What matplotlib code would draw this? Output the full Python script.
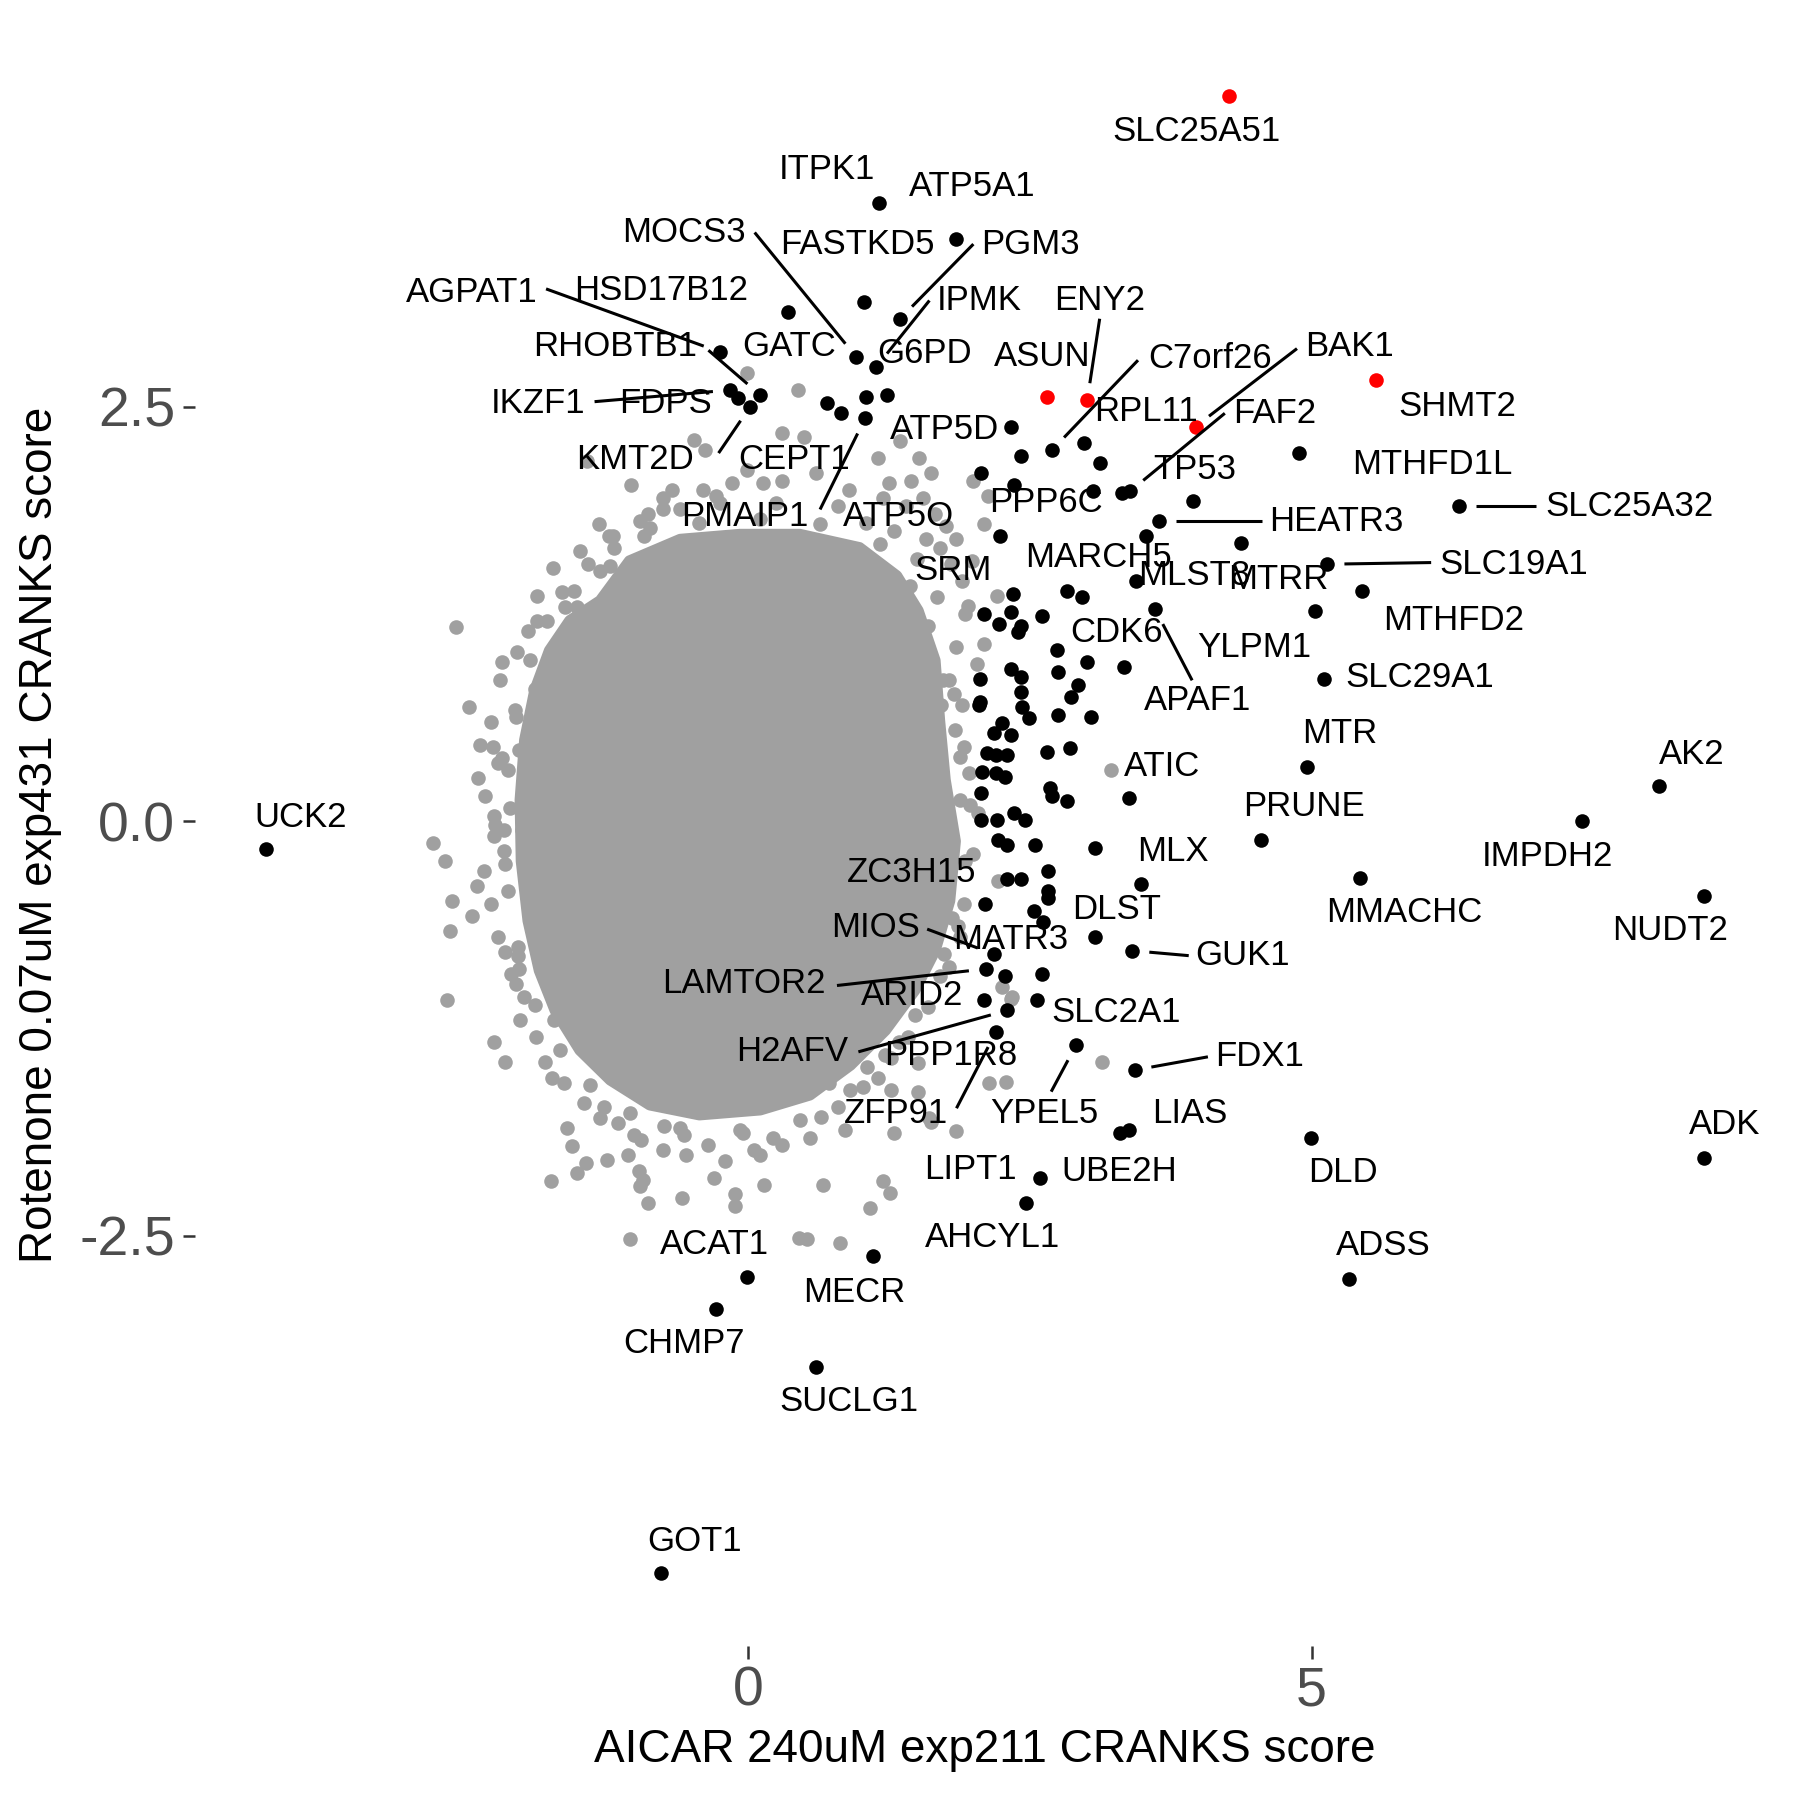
import numpy as np
import matplotlib
matplotlib.use('Agg')
import matplotlib.pyplot as plt

plt.rcParams['font.family'] = ['Liberation Sans', 'DejaVu Sans']
plt.rcParams['axes.unicode_minus'] = False

################################################################################
# Data

# outline of the dense grey core of the cloud (thousands of overlapping genes)
coreX = [-1.31, -1.05, -0.60, -0.07, 0.46, 0.99, 1.32, 1.51, 1.66, 1.70, 1.75, 1.84, 1.79, 1.66,
         1.48, 1.22, 0.91, 0.55, 0.11, -0.43, -0.87, -1.22, -1.49, -1.71, -1.85, -1.95, -2.01, -2.02,
         -1.98, -1.89, -1.76, -1.58]
coreY = [1.33, 1.57, 1.70, 1.73, 1.73, 1.65, 1.48, 1.27, 0.97, 0.61, 0.25, -0.12, -0.48, -0.78,
         -1.02, -1.26, -1.47, -1.65, -1.74, -1.77, -1.71, -1.56, -1.38, -1.14, -0.90, -0.60, -0.24, 0.13,
         0.49, 0.79, 1.03, 1.21]

# grey genes around the core
greyX = [-2.59, -2.18, -1.87, -1.87, -1.73, -1.49, -1.32, -1.23, -1.19, -1.43,
         -1.04, -1.31, -0.92, -0.96, -0.89, -0.75, -0.67, -1.02, -1.62, -1.52,
         -1.79, -1.89, -1.81, -2.47, -2.06, -2.38, -2.26, -2.03, -1.87, -2.39,
         -2.18, -2.11, -2.25, -2.79, -2.69, -2.25, -2.00, -2.16, -2.15, -2.40,
         -2.62, -2.64, -2.45, -2.67, -2.25, -2.15, -2.04, -2.06, -1.99, -2.03,
         -1.87, -1.96, -1.75, -1.70, -1.72, -1.60,
         1.52, 1.15, 1.25, 1.66, 1.76, 1.93, 1.73, 1.88, 1.83, 1.71, 1.96, 1.69,
         -1.05, 0.45, 0.52, 0.82, 1.08, 1.20, 1.26, 0.67, 0.14, -0.11,
         -0.11, -0.30, -0.58, -0.89, -1.25, -1.06, -0.97, -0.93, -0.96, 0.11,
         -0.55, -0.04, 0.22, 1.85, 3.14, 2.14, 2.29, 1.51, 1.30, 0.86,
         -1.01, -2.15, -1.74, -1.75, -1.52, -1.44, -1.60, -1.56,
         -0.01, 0.44, -0.48, -0.38, -0.75, 0.30, 0.50, -0.01, 0.13, -0.14, -0.28,
         2.00, 2.13, 2.09, 1.35, 3.22, 2.33, 2.21, 2.09, 1.99, 2.03, 2.22, 2.04,
         1.34, 1.27, 1.51, 0.72, 1.06, 1.27, 1.62,
         1.74, 1.81, 1.88, 1.74, 2.25, 2.34,
         -0.87, -0.43, 0.11, 0.64, 1.17, 1.44, 1.60, 1.78, 1.84, 1.88,
         1.93, 1.86, 1.70, 1.48, 1.22, 0.91, 0.46, -0.07, -0.60, -1.05,
         -1.40, -1.67, -1.89, -2.04, -2.13, -2.16, -2.13, -2.07, -1.93, -1.78,
         -1.54, -1.22, -0.74, -0.57, 0.55, 1.61, -1.31,
         -2.20, -2.28, -2.22, -2.33, -2.24, -2.34, -2.28, -2.22, -2.10, -2.02,
         -1.88, -1.80, -1.63, -1.45, -1.28, -1.15, -0.95, -0.75, -0.35, -0.20,
         0.05, 0.30, 0.65, 0.80, 1.02, 1.15, 1.42, 1.60, 1.78, 1.92,
         2.00, 1.97, 1.92, 1.90, 1.85, 1.68, 1.50, 1.30, 1.05, 0.80,
         0.25, -0.25, -0.60, -1.20, -1.42, -1.65, -1.95, -2.05,
         1.45, 1.55, 1.62, 1.70, 1.80, 1.90, 1.58, 1.85, 1.95, 1.40,
         1.20, 0.90, 0.60, 0.30, -0.40]
greyY = [1.17, 0.96, 1.36, 1.21, 1.53, 1.63, 1.79, 1.72, 1.65, 2.17,
         2.03, 1.51, 1.72, 1.81, 1.85, 1.95, 2.00, 1.51, 1.29, 1.29,
         0.90, 0.80, 0.81, 0.69, 0.63, 0.46, 0.45, 0.43, 0.46, 0.26,
         0.38, 0.08, 0.03, -0.13, -0.24, -0.09, -0.05, -0.18, -0.26, -0.39,
         -0.48, -0.66, -0.57, -1.08, -1.33, -0.79, -0.76, -0.98, -1.06, -0.89,
         -0.52, -0.43, -0.26, -0.14, -1.20, -1.22,
         2.19, 2.19, 2.04, 1.85, 1.78, 1.25, 0.85, 0.39, 0.77, 0.70, 0.29, 0.12,
         -2.52, -2.51, -2.52, -2.54, -2.33, -2.17, -2.24, -2.19, -2.19, -2.25,
         -2.32, -2.15, -2.27, -2.30, -2.04, -2.01, -2.11, -2.16, -2.20, -2.01,
         -2.01, -1.88, -1.91, -1.87, -1.45, -1.58, -1.57, -1.63, -1.88, -1.86,
         -1.89, -1.45, -1.55, -2.17, -2.12, -2.06, -1.85, -1.96,
         2.70, 2.60, 2.30, 2.24, 1.88, 2.34, 2.32, 2.12, 2.04, 2.04, 1.96,
         2.05, 1.96, 1.79, 2.29, 0.31, -1.07, 1.36, 1.07, 1.57, 0.95, -0.36, 0.05,
         -1.33, -1.43, -1.46, -1.58, -1.48, -1.62, -1.81,
         -0.44, -0.58, -0.70, -0.80, -1.00, -1.06,
         1.77, 1.80, 1.82, 1.79, 1.67, 1.42, 1.18, 0.85, 0.55, 0.13,
         -0.24, -0.63, -0.93, -1.17, -1.41, -1.62, -1.80, -1.86, -1.85, -1.76,
         -1.59, -1.38, -1.11, -0.81, -0.42, -0.05, 0.31, 0.67, 0.97, 1.21,
         1.39, 1.54, -1.84, -1.89, -1.91, -1.79, -1.79,
         0.85, 0.60, 0.35, 0.15, -0.02, -0.30, -0.50, -0.70, -0.92, -1.20,
         -1.30, -1.45, -1.58, -1.70, -1.72, -1.82, -1.92, -1.98, -1.95, -2.05,
         -1.98, -1.95, -1.78, -1.72, -1.60, -1.55, -1.30, -1.12, -0.88, -0.50,
         -0.20, 0.10, 0.45, 0.70, 1.05, 1.35, 1.58, 1.75, 1.80, 1.90,
         1.92, 1.92, 1.88, 1.72, 1.55, 1.38, 1.15, 1.02,
         2.05, 1.95, 2.10, 1.65, 1.55, 1.45, 1.70, 1.70, 1.30, 1.90,
         1.95, 2.00, 2.10, 2.05, 2.00]

# black hits ('' = not labelled)
hitGene = ['ITPK1', 'ATP5A1', 'FASTKD5', 'HSD17B12', 'PGM3', 'AGPAT1', 'MOCS3', 'IPMK', 'IKZF1', 'FDPS',
           'RHOBTB1', 'KMT2D', 'GATC', 'CEPT1', '', 'G6PD', 'PMAIP1', 'ATP5D', '', 'C7orf26',
           'RPL11', '', 'ATP5O', 'PPP6C', '', 'TP53', 'FAF2', '', 'HEATR3', 'MARCH5',
           'MTRR', 'SRM', 'MLST8', 'APAF1', '', '', '', '', '', '',
           '', '', '', '', '', 'CDK6', '', '', '', '',
           '', '', '', '', '', '', '', '', '', '',
           '', '', '', '', '', '', '', '', '', '',
           '', '', '', '', 'ATIC', '', '', '', '', '',
           '', '', '', 'ZC3H15', '', '', '', '', 'MLX', '',
           '', 'MATR3', 'DLST', 'GUK1', 'MIOS', 'LAMTOR2', 'PPP1R8', '', 'ARID2', 'H2AFV',
           'SLC2A1', 'ZFP91', 'YPEL5', 'FDX1', 'LIPT1', 'LIAS', 'DLD', 'UBE2H', 'AHCYL1', 'ADSS',
           'MECR', 'ACAT1', 'CHMP7', 'SUCLG1', 'GOT1', 'UCK2', 'MTHFD1L', 'SLC25A32', 'SLC19A1', 'MTHFD2',
           'YLPM1', 'SLC29A1', 'MTR', 'PRUNE', 'MMACHC', 'IMPDH2', 'AK2', 'NUDT2', 'ADK']
hitX = [1.16, 1.85, 1.03, 0.36, 1.35, -0.25, 0.96, 1.14, -0.16, -0.09,
        0.11, 0.02, 0.70, 0.83, 1.05, 1.23, 1.04, 2.33, 2.42, 2.70,
        2.98, 3.12, 2.07, 2.36, 3.06, 3.32, 3.39, 3.95, 3.65, 3.53,
        4.37, 2.24, 3.44, 3.61, 2.83, 2.96, 2.35, 2.09, 2.33, 2.23,
        2.42, 2.40, 2.61, 2.74, 3.01, 3.34, 2.75, 2.33, 2.42, 2.06,
        2.42, 2.93, 2.87, 2.06, 2.05, 2.43, 2.49, 2.75, 3.04, 2.25,
        2.18, 2.33, 2.65, 2.86, 2.12, 2.20, 2.30, 2.08, 2.20, 2.28,
        2.07, 2.68, 2.70, 2.83, 3.38, 2.07, 2.21, 2.36, 2.46, 2.22,
        2.30, 2.55, 3.08, 2.30, 2.42, 2.66, 2.66, 2.66, 3.49, 2.10,
        2.54, 2.62, 3.08, 3.41, 2.18, 2.11, 2.28, 2.61, 2.09, 2.30,
        2.56, 2.20, 2.91, 3.43, 3.30, 3.38, 4.99, 2.59, 2.47, 5.33,
        1.11, -0.01, -0.28, 0.60, -0.77, -4.27, 4.89, 6.31, 5.14, 5.45,
        5.03, 5.11, 4.96, 4.55, 5.43, 7.40, 8.08, 8.48, 8.48]
hitY = [3.73, 3.51, 3.13, 3.07, 3.03, 2.83, 2.80, 2.74, 2.60, 2.55,
        2.57, 2.50, 2.52, 2.46, 2.56, 2.57, 2.43, 2.38, 2.20, 2.24,
        2.28, 2.16, 2.10, 2.03, 1.99, 1.98, 1.99, 1.93, 1.81, 1.72,
        1.68, 1.72, 1.45, 1.28, 1.39, 1.35, 1.37, 1.25, 1.26, 1.19,
        1.18, 1.14, 1.24, 1.03, 0.96, 0.93, 0.90, 0.92, 0.87, 0.86,
        0.78, 0.82, 0.75, 0.72, 0.70, 0.69, 0.62, 0.64, 0.63, 0.59,
        0.53, 0.52, 0.42, 0.44, 0.41, 0.40, 0.40, 0.30, 0.29, 0.27,
        0.17, 0.20, 0.15, 0.12, 0.14, 0.01, 0.01, 0.05, 0.01, -0.11,
        -0.14, -0.14, -0.16, -0.35, -0.35, -0.30, -0.42, -0.46, -0.38, -0.50,
        -0.54, -0.61, -0.70, -0.78, -0.80, -0.89, -0.93, -0.92, -1.08, -1.14,
        -1.08, -1.27, -1.35, -1.50, -1.88, -1.86, -1.91, -2.15, -2.30, -2.76,
        -2.62, -2.75, -2.94, -3.29, -4.53, -0.17, 2.22, 1.90, 1.55, 1.39,
        1.27, 0.86, 0.33, -0.11, -0.34, 0.00, 0.21, -0.45, -2.03]

# red hits
redGene = ['SLC25A51', 'ASUN', 'ENY2', 'BAK1', 'SHMT2']
redX = [4.27, 2.65, 3.01, 3.97, 5.57]
redY = [4.37, 2.56, 2.54, 2.38, 2.66]

################################################################################
# Label layout (text centres and segment starts, as placed in the figure)

labelPos = {
    'SLC25A51': (3.98, 4.16), 'ITPK1': (0.70, 3.93), 'ATP5A1': (1.99, 3.83), 'MOCS3': (-0.57, 3.55),
    'FASTKD5': (0.97, 3.48), 'PGM3': (2.51, 3.48), 'AGPAT1': (-2.45, 3.19), 'HSD17B12': (-0.77, 3.20),
    'IPMK': (2.05, 3.14), 'ENY2': (3.12, 3.14), 'BAK1': (5.34, 2.86), 'RHOBTB1': (-1.18, 2.86),
    'GATC': (0.37, 2.86), 'G6PD': (1.57, 2.82), 'ASUN': (2.61, 2.80), 'C7orf26': (4.10, 2.79),
    'SHMT2': (6.29, 2.50), 'IKZF1': (-1.86, 2.52), 'FDPS': (-0.73, 2.52), 'RPL11': (3.53, 2.47),
    'FAF2': (4.67, 2.46), 'ATP5D': (1.74, 2.36), 'KMT2D': (-1.00, 2.18), 'CEPT1': (0.41, 2.18),
    'MTHFD1L': (6.07, 2.15), 'TP53': (3.96, 2.12), 'PPP6C': (2.64, 1.92), 'SLC25A32': (7.82, 1.90),
    'PMAIP1': (-0.03, 1.84), 'ATP5O': (1.34, 1.84), 'HEATR3': (5.22, 1.81), 'MARCH5': (3.11, 1.59),
    'SLC19A1': (6.79, 1.55), 'SRM': (1.82, 1.51), 'MLST8': (3.96, 1.48), 'MTRR': (4.70, 1.46),
    'MTHFD2': (6.26, 1.21), 'CDK6': (3.27, 1.14), 'YLPM1': (4.49, 1.05), 'SLC29A1': (5.96, 0.87),
    'APAF1': (3.99, 0.73), 'MTR': (5.25, 0.53), 'AK2': (8.37, 0.40), 'ATIC': (3.67, 0.33),
    'PRUNE': (4.93, 0.09), 'UCK2': (-3.97, 0.02), 'IMPDH2': (7.09, -0.21), 'MLX': (3.77, -0.18),
    'ZC3H15': (1.45, -0.31), 'DLST': (3.27, -0.53), 'MMACHC': (5.82, -0.55), 'NUDT2': (8.18, -0.66),
    'MIOS': (1.13, -0.64), 'MATR3': (2.33, -0.71), 'GUK1': (4.39, -0.81), 'LAMTOR2': (-0.04, -0.98),
    'ARID2': (1.46, -1.05), 'SLC2A1': (3.27, -1.15), 'H2AFV': (0.39, -1.39), 'PPP1R8': (1.80, -1.41),
    'FDX1': (4.54, -1.42), 'YPEL5': (2.63, -1.76), 'ZFP91': (1.31, -1.76), 'LIAS': (3.92, -1.76),
    'ADK': (8.66, -1.83), 'LIPT1': (1.97, -2.10), 'UBE2H': (3.29, -2.11), 'DLD': (5.28, -2.12),
    'AHCYL1': (2.17, -2.51), 'ACAT1': (-0.30, -2.55), 'ADSS': (5.64, -2.56), 'MECR': (0.94, -2.84),
    'CHMP7': (-0.57, -3.15), 'SUCLG1': (0.90, -3.50), 'GOT1': (-0.47, -4.34),
}

segStart = {
    'MOCS3': (0.06, 3.55), 'AGPAT1': (-1.79, 3.21), 'RHOBTB1': (-0.35, 2.84), 'IKZF1': (-1.36, 2.53),
    'KMT2D': (-0.26, 2.22), 'PMAIP1': (0.64, 1.88), 'PGM3': (2.00, 3.48), 'IPMK': (1.61, 3.14),
    'ENY2': (3.12, 3.03), 'C7orf26': (3.46, 2.78), 'BAK1': (4.87, 2.85), 'FAF2': (4.23, 2.46),
    'HEATR3': (4.56, 1.81), 'SLC25A32': (6.99, 1.90), 'SLC19A1': (6.06, 1.56), 'APAF1': (3.94, 0.85),
    'GUK1': (3.91, -0.81), 'MIOS': (1.59, -0.65), 'LAMTOR2': (0.79, -0.99), 'H2AFV': (0.98, -1.39),
    'ZFP91': (1.85, -1.73), 'YPEL5': (2.69, -1.63), 'FDX1': (4.08, -1.42),
}

################################################################################
# Subroutines

def pointOf(gene):
    if gene in redGene:
        i = redGene.index(gene)
        return redX[i], redY[i]
    i = hitGene.index(gene)
    return hitX[i], hitY[i]

def shortened(ax, x0, y0, x1, y1, gap):
    # pull the end of a segment back from the point by gap pixels
    p0 = ax.transData.transform((x0, y0))
    p1 = ax.transData.transform((x1, y1))
    d = p1 - p0
    n = np.hypot(d[0], d[1])
    p1 = p0 + d * max(n - gap, 0) / n
    return ax.transData.inverted().transform(p1)

################################################################################
# Main

fig = plt.figure(figsize=(18, 18), dpi=100)
ax = fig.add_axes([0.1081, 0.0853, 0.8785, 0.9021])

grey = '#A0A0A0'
allX = greyX + hitX + redX
allY = greyY + hitY + redY
xr = max(allX) - min(allX)
yr = max(allY) - min(allY)
ax.set_xlim(min(allX) - 0.05 * xr, max(allX) + 0.05 * xr)
ax.set_ylim(min(allY) - 0.05 * yr, max(allY) + 0.05 * yr)

ax.fill(coreX, coreY, color=grey, lw=8, joinstyle='round', zorder=1)
ax.scatter(greyX, greyY, s=110, color=grey, linewidths=0, zorder=2)
ax.scatter(hitX, hitY, s=110, color='black', linewidths=0, zorder=3)
ax.scatter(redX, redY, s=110, color='#FF0000', linewidths=0, zorder=3)

for gene in segStart:
    sx, sy = segStart[gene]
    px, py = pointOf(gene)
    ex, ey = shortened(ax, sx, sy, px, py, 17)
    ax.plot([sx, ex], [sy, ey], color='black', lw=2.2, solid_capstyle='butt', zorder=4)

for gene in labelPos:
    lx, ly = labelPos[gene]
    ax.text(lx, ly, gene, fontsize=25, ha='center', va='center', color='black', zorder=5)

for s in ax.spines.values():
    s.set_visible(False)
ax.set_xticks([0, 5])
ax.set_xticklabels(['0', '5'])
ax.set_yticks([-2.5, 0, 2.5])
ax.set_yticklabels(['-2.5', '0.0', '2.5'])
ax.tick_params(axis='both', length=9, width=1.8, color='#333333', labelsize=40,
               labelcolor='#4D4D4D', pad=5)

ax.set_xlabel('AICAR 240uM exp211 CRANKS score', fontsize=33)
ax.set_ylabel('Rotenone 0.07uM exp431 CRANKS score', fontsize=33)
ax.xaxis.set_label_coords(0.5, -0.0637)
ax.xaxis.label.set_va('center')
ax.yaxis.set_label_coords(-0.0978, 0.5)
ax.yaxis.label.set_va('center')

plt.savefig('out.png', dpi=100)
